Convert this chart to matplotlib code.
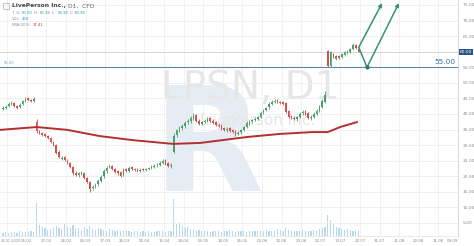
import numpy as np
import matplotlib.pyplot as plt
import matplotlib.transforms as mtransforms

# --- daily candles (LPSN, D1) ---
opens = [41.6, 42.0, 42.5, 43.2, 43.5, 42.7, 42.2, 43.1, 44.1, 45.0, 44.6, 44.1,
         37.5,
         34.5, 33.9, 33.6, 32.8, 32.2, 31.0, 29.9, 27.9, 25.7,
         26.1, 25.0, 24.2, 22.9, 21.2, 20.3, 20.7, 21.0, 19.4, 18.1,
         16.1, 16.8, 17.4, 18.5, 20.0, 21.6, 22.9, 23.3, 22.3, 21.6,
         21.4, 20.3, 22.2, 21.7, 22.9, 22.3, 22.2, 21.7, 22.3, 22.0,
         22.3, 22.7, 23.0, 23.5, 23.6, 24.3, 25.1, 24.1, 23.3,
         27.9,
         33.2, 34.7, 35.4, 36.0, 37.4, 37.6, 38.6, 39.6, 37.9,
         36.8, 37.4, 37.7, 38.6, 37.9, 37.3, 36.6, 36.3, 35.4, 34.8,
         35.4, 34.7, 34.4, 33.6, 34.1, 35.0, 35.8, 37.0, 37.6, 38.0,
         38.4, 39.0, 40.5, 41.2, 42.1, 43.2, 44.0, 44.4, 43.8, 43.7,
         43.4, 40.9, 39.3, 38.6, 38.4, 39.0, 40.2, 40.9, 40.3, 38.7,
         39.0, 40.0, 41.0, 42.2, 44.0,
         60.2, 55.3, 59.3, 57.6, 58.6, 58.3, 59.0, 59.6, 60.0, 61.0, 62.0, 61.0]
highs = [42.5, 42.8, 43.7, 44.1, 43.9, 43.0, 43.4, 44.6, 45.3, 45.4, 44.9, 45.3,
         38.5,
         35.0, 34.3, 33.9, 33.2, 32.6, 31.4, 30.3, 28.4, 26.6,
         26.5, 25.5, 24.6, 23.3, 21.7, 21.4, 21.8, 21.4, 19.8, 18.5,
         17.2, 17.8, 19.0, 20.4, 22.3, 23.2, 24.0, 23.7, 22.7, 22.0,
         21.8, 22.5, 22.6, 23.2, 23.3, 22.7, 22.5, 22.5, 22.6, 22.8,
         23.1, 23.5, 23.8, 24.1, 24.8, 25.5, 25.4, 24.5, 24.1,
         34.0,
         35.3, 36.1, 36.7, 37.6, 38.3, 39.2, 40.2, 40.0, 38.3,
         37.9, 38.3, 39.0, 38.9, 38.3, 37.6, 37.0, 36.7, 35.8, 35.8,
         35.8, 35.1, 34.8, 34.4, 35.3, 36.3, 37.6, 38.0, 38.5, 38.9,
         39.5, 40.8, 41.7, 42.4, 43.8, 44.4, 44.9, 44.8, 44.2, 44.1,
         43.8, 41.3, 39.8, 39.2, 39.5, 40.6, 41.3, 41.3, 40.7, 39.6,
         40.5, 41.5, 42.8, 44.7, 47.4,
         60.4, 60.3, 59.6, 59.0, 58.9, 59.4, 60.1, 60.4, 61.3, 62.8, 62.4, 61.3]
lows = [41.2, 41.6, 42.2, 42.9, 42.3, 41.5, 41.9, 42.8, 43.8, 44.3, 43.9, 43.8,
        34.0,
        33.6, 32.9, 32.5, 32.0, 30.8, 29.6, 27.1, 25.8, 25.2,
        24.9, 23.9, 22.7, 20.4, 20.0, 19.9, 20.3, 19.2, 17.8, 15.1,
        15.6, 16.3, 17.0, 18.1, 19.6, 21.2, 22.5, 22.0, 21.0, 20.4,
        19.7, 20.0, 21.4, 21.3, 22.0, 21.7, 21.4, 21.3, 21.8, 21.6,
        22.0, 22.4, 22.6, 23.1, 23.3, 23.9, 23.6, 23.0, 22.8,
        27.6,
        32.7, 34.2, 35.0, 35.6, 36.9, 37.2, 38.2, 37.3, 36.4,
        36.4, 37.0, 37.3, 37.4, 36.8, 36.1, 35.8, 34.9, 34.4, 34.3,
        34.1, 33.9, 33.0, 33.2, 33.7, 34.6, 35.4, 36.6, 37.2, 37.6,
        38.0, 38.6, 40.1, 40.8, 41.7, 42.8, 43.6, 43.4, 43.2, 42.9,
        40.2, 38.6, 38.3, 38.0, 37.9, 38.6, 39.8, 39.7, 38.3, 38.2,
        38.6, 39.6, 40.6, 41.8, 43.6,
        55.0, 55.0, 57.9, 57.3, 57.7, 58.0, 58.7, 59.2, 59.7, 60.6, 60.9, 59.8]
closes = [42.0, 42.3, 43.3, 43.6, 42.6, 42.0, 43.0, 44.2, 44.9, 44.6, 44.2, 44.9,
          34.6,
          34.0, 33.3, 33.0, 32.4, 31.1, 30.1, 27.6, 26.3, 26.0,
          25.3, 24.4, 23.1, 20.9, 20.5, 20.9, 21.2, 19.6, 18.3, 16.0,
          16.7, 17.3, 18.6, 19.9, 21.8, 22.8, 23.4, 22.4, 21.5, 20.9,
          20.2, 22.1, 21.8, 22.8, 22.4, 22.1, 21.8, 22.1, 22.1, 22.4,
          22.8, 23.1, 23.4, 23.7, 24.4, 25.0, 24.0, 23.4, 23.7,
          33.0,
          34.9, 35.6, 36.2, 37.2, 37.8, 38.8, 39.4, 37.8, 36.9,
          37.5, 37.8, 38.5, 37.8, 37.2, 36.5, 36.2, 35.3, 34.9, 35.3,
          34.6, 34.3, 33.7, 34.0, 34.9, 35.9, 37.2, 37.5, 38.1, 38.5,
          39.1, 40.4, 41.3, 42.0, 43.3, 43.9, 44.2, 43.9, 43.6, 43.3,
          40.7, 39.1, 38.8, 38.5, 39.1, 40.1, 40.7, 40.1, 38.8, 39.1,
          40.1, 41.1, 42.3, 44.2, 46.2,
          55.3, 59.9, 58.2, 58.6, 58.0, 59.1, 59.8, 60.0, 61.0, 62.2, 61.2, 60.0]
# volume, millions
volumes = [0.35, 0.4, 0.3, 0.45, 0.4, 0.35, 0.5, 0.4, 0.45, 0.4, 0.5, 0.45,
           3.6,
           1.2, 1.0, 0.9, 0.7, 0.8, 0.9, 1.1, 0.9, 0.8, 1.3, 1.0, 0.9, 1.2, 0.8, 0.9, 0.7, 1.0, 0.8,
           1.1, 0.8, 0.7, 0.9, 0.8, 0.7, 0.6, 0.8, 0.7, 0.6, 0.7, 0.6, 0.5, 0.6, 0.5,
           0.4, 0.5, 0.6, 0.4, 0.5, 0.4, 0.5, 0.4, 0.4, 0.5, 0.6, 0.5, 0.4, 0.5, 0.5,
           4.0,
           1.3, 1.5, 1.1, 0.9, 1.0, 0.8, 0.7, 0.6, 0.7,
           0.5, 0.6, 0.5, 0.4, 0.5, 0.6, 0.5, 0.4, 0.5, 0.6, 0.7, 0.5, 0.4, 0.5, 0.6, 0.5, 0.4, 0.6, 0.5, 0.5,
           0.6, 0.5, 0.6, 0.7, 0.6, 0.5, 0.6, 0.8, 0.7, 0.6, 0.9, 0.7, 0.6, 0.5, 0.6, 0.5, 0.7, 0.6, 0.5, 0.6,
           0.7, 0.6, 0.8, 0.9, 1.0,
           2.3, 1.8, 1.3, 1.0, 0.9, 0.8, 0.7, 0.8, 0.7, 0.6, 0.7, 0.6]

# EMA(200) read at a few candles
ema_idx = [-1.1, 12.1, 22.9, 34.6, 46.4, 60.7, 70.4, 87.1, 98.9, 110.7, 116.0, 120.4, 126.4]
ema_val = [34.9, 35.8, 34.9, 32.9, 31.6, 30.4, 30.7, 32.6, 33.6, 34.2, 34.2, 35.8, 37.4]

# forecast paths (candle index, price)
fc1_idx = [127.1, 135.4]
fc1_val = [61.5, 75.6]
fc2_idx = [127.1, 130.0, 141.4]
fc2_val = [61.3, 55.0, 75.6]

level = 55.00
last_price = 60.00

date_labels = ['28.01.2020', '06.02', '17.02', '26.02', '06.03', '17.03', '26.03', '06.04',
               '15.04', '24.04', '05.05', '14.05', '25.05', '03.06', '12.06', '23.06',
               '02.07', '13.07', '22.07', '31.07', '11.08', '20.08', '31.08', '09.09']

GREEN = '#4a9f68'
RED = '#d2504c'
GRID = '#ececec'
TXT = '#8a8a8a'

fig = plt.figure(figsize=(4.74, 2.46), dpi=100)
W, H = 474.0, 246.0
ax = fig.add_axes([0, 10 / H, 458 / W, 236 / H])
axv = fig.add_axes([0, 10 / H, 458 / W, 42 / H], sharex=ax)
axv.patch.set_alpha(0)
axv.set_zorder(0)
ax.set_zorder(1)
ax.patch.set_alpha(0)

x = np.arange(len(closes))
o = np.array(opens); h = np.array(highs); l = np.array(lows); c = np.array(closes)
up = c >= o
cols = np.where(up, GREEN, RED)

# volume
axv.bar(x, volumes, width=0.45, color='#b7d9ec', linewidth=0)
axv.set_ylim(0, 4.6)
axv.axis('off')

# watermark
ax.text(0.455, 0.36, 'R', transform=ax.transAxes, fontsize=104, fontweight='bold',
        color='#e6ecf3', ha='center', va='center', zorder=0)
ax.text(0.546, 0.627, 'LPSN, D1', transform=ax.transAxes, fontsize=28,
        color='#e6e6e6', ha='center', va='center', zorder=0)
ax.text(0.563, 0.49, 'LivePerson Inc.', transform=ax.transAxes, fontsize=11,
        color='#e6e6e6', ha='center', va='center', zorder=0)

# candles
ax.vlines(x, l, h, colors=cols, linewidth=0.6, zorder=3)
body_lo = np.minimum(o, c)
body_h = np.maximum(np.abs(c - o), 0.15)
ax.bar(x, body_h, bottom=body_lo, width=0.62, color=cols, linewidth=0, zorder=3)

# EMA line
ax.plot(ema_idx, ema_val, color='#b3302e', linewidth=1.4, zorder=4)

# levels
ax.axhline(last_price, color='#cfcfcf', linewidth=0.6, zorder=2)
ax.axhline(level, color='#5a87b3', linewidth=0.8, zorder=2)
ax.text(161.8, level + 0.6, f'{level:.2f}', color='#3d6f9f', fontsize=5.4,
        ha='right', va='bottom', zorder=5)
ax.text(0.3, level + 0.6, f'{level:.2f}', color='#7d9bbb', fontsize=2.6,
        ha='left', va='bottom', zorder=5)

# forecast
fc_col = '#33946f'
ax.plot(fc2_idx[:2], fc2_val[:2], color=fc_col, linewidth=1.1, zorder=5)
ax.plot(fc2_idx[1], fc2_val[1], 'o', color='#2c7a5c', markersize=2, zorder=6)
for xs, ys in ((fc1_idx, fc1_val), (fc2_idx[1:], fc2_val[1:])):
    ax.annotate('', xy=(xs[-1], ys[-1]), xytext=(xs[-2], ys[-2]),
                arrowprops=dict(arrowstyle='-|>', color=fc_col, lw=1.1,
                                mutation_scale=5, shrinkA=0, shrinkB=0),
                zorder=5, annotation_clip=False)

# axes
ax.set_xlim(-1.07, 162.5)
ax.set_ylim(0.82, 76.6)
ax.yaxis.tick_right()
yt = np.arange(5, 80, 5)
ax.set_yticks(yt)
ax.set_yticklabels(['' if v == last_price else f'{v:.2f}' for v in yt])
ax.tick_params(axis='y', length=0, pad=3.5, labelsize=3.2, labelcolor=TXT)
ticks = np.arange(1.5, 164, 7)
ax.set_xticks(ticks)
ax.set_xticklabels(date_labels)
ax.tick_params(axis='x', length=0, pad=2.5, labelsize=2.9, labelcolor=TXT)
lab0 = ax.get_xticklabels()[0]
lab0.set_horizontalalignment('left')
lab0.set_fontsize(2.5)
lab0.set_transform(lab0.get_transform() + mtransforms.ScaledTranslation(-6 / 100, 0, fig.dpi_scale_trans))
ax.get_xticklabels()[-1].set_horizontalalignment('right')
plt.setp(axv.get_xticklabels(), visible=False)
ax.grid(True, color=GRID, linewidth=0.5, zorder=0)
ax.set_axisbelow(True)
for s in ('top', 'left'):
    ax.spines[s].set_visible(False)
ax.spines['right'].set_color('#d0d0d0')
ax.spines['right'].set_linewidth(0.6)
ax.spines['bottom'].set_color('#e0e0e0')
ax.spines['bottom'].set_linewidth(0.5)

# current price tag
ax.text(1.004, last_price, f'{last_price:.2f}', transform=ax.get_yaxis_transform(),
        fontsize=3.2, color='white', ha='left', va='center', zorder=6,
        bbox=dict(boxstyle='square,pad=0.25', fc='#2d5489', ec='none'), clip_on=False)

# header
fig.patches.append(plt.Rectangle((3 / W, 1 - 9 / H), 6 / W, 6 / H, transform=fig.transFigure,
                                 fill=False, ec='#9a9a9a', lw=0.4))
t1 = fig.text(12 / W, 1 - 6 / H, 'LivePerson Inc.,', fontsize=4.3, color='#444444',
              fontweight='bold', va='center')
fig.canvas.draw()
bb = t1.get_window_extent()
fig.text((bb.x1 + 2) / W, 1 - 6 / H, 'D1,  CFD', fontsize=4.3, color='#666666', va='center')
row2 = [('↑ O:', TXT), ('60.00', '#26a69a'), ('H:', TXT), ('60.38', '#26a69a'),
        ('L:', TXT), ('58.98', '#26a69a'), ('C:', TXT), ('60.38', '#26a69a')]
xp = 12
for t, col in row2:
    fig.text(xp / W, 1 - 13 / H, t, fontsize=2.7, color=col, va='center')
    xp += len(t) * 2.1 + 1.5
fig.text(12 / W, 1 - 19 / H, 'VOL:', fontsize=2.7, color=TXT, va='center')
fig.text(22 / W, 1 - 19 / H, '468', fontsize=2.7, color='#2f8fd0', va='center')
fig.text(12 / W, 1 - 25 / H, 'EMA(200):', fontsize=2.7, color=TXT, va='center')
fig.text(33 / W, 1 - 25 / H, '37.41', fontsize=2.7, color='#c0392b', va='center')

fig.savefig('out.png', dpi=100)
